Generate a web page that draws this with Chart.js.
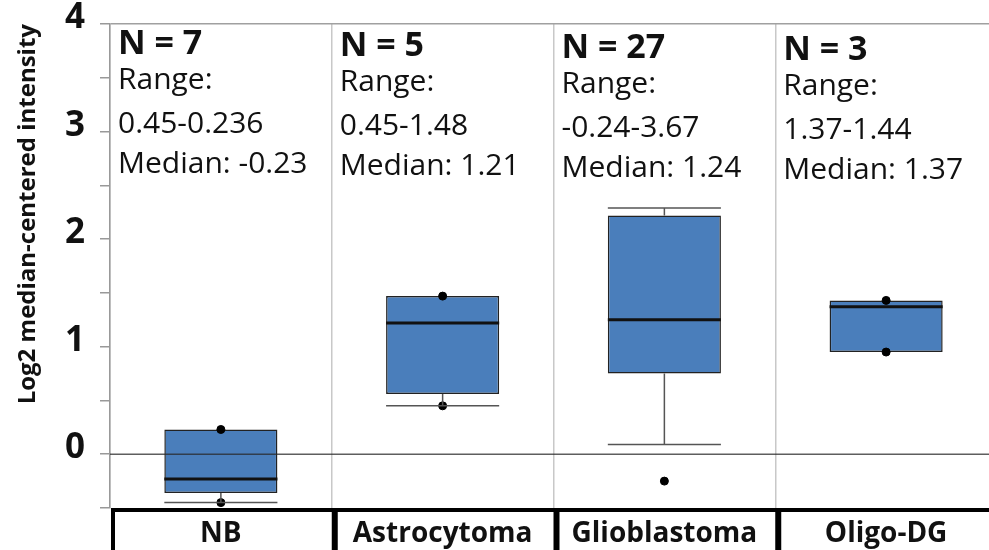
<!DOCTYPE html>
<html lang="en">
<head>
    <meta charset="UTF-8">
    <title>Expression by tumour type</title>
    <script src="https://cdn.jsdelivr.net/npm/chart.js"></script>
    <style>
        html, body { margin: 0; padding: 0; background: #fff; overflow: hidden; }
        #wrap { position: absolute; left: 0; top: 0; width: 1002px; height: 560px; }
    </style>
</head>
<body>
    <div id="wrap">
        <canvas id="boxChart" width="1002" height="560"></canvas>
    </div>

    <script>
    // categories and summary text shown above each box
    const categories = ['NB', 'Astrocytoma', 'Glioblastoma', 'Oligo-DG'];
    const nCounts = [7, 5, 27, 3];
    const rangeText = ['0.45-0.236', '0.45-1.48', '-0.24-3.67', '1.37-1.44'];
    const medianText = ['-0.23', '1.21', '1.24', '1.37'];

    // box plot values (log2 median-centered intensity)
    const q1 = [-0.36, 0.56, 0.75, 0.95];
    const q3 = [0.23, 1.47, 2.22, 1.43];
    const medians = [-0.23, 1.22, 1.25, 1.37];
    const whiskerLow = [-0.45, 0.45, 0.09, 0.95];
    const whiskerHigh = [0.23, 1.47, 2.29, 1.43];

    // single points drawn as dots
    const dotCategories = ['NB', 'NB', 'Astrocytoma', 'Astrocytoma', 'Glioblastoma', 'Oligo-DG', 'Oligo-DG'];
    const dotValues = [0.23, -0.45, 1.47, 0.45, -0.25, 1.43, 0.95];

    // y axis
    const yMin = -0.5;
    const yMax = 4;
    const yStep = 0.5;

    const FONT = "'Open Sans', 'DejaVu Sans', sans-serif";

    // whiskers, caps and median lines
    const boxPlotLines = {
        id: 'boxPlotLines',
        afterDatasetsDraw(chart) {
            const ctx = chart.ctx;
            const y = chart.scales.y;
            const bars = chart.getDatasetMeta(0).data;
            ctx.save();
            bars.forEach((bar, i) => {
                const xc = bar.x;
                const half = bar.width / 2;

                ctx.strokeStyle = '#555';
                ctx.lineWidth = 1.5;
                if (whiskerLow[i] < q1[i]) {
                    const yl = y.getPixelForValue(whiskerLow[i]);
                    ctx.beginPath();
                    ctx.moveTo(xc, y.getPixelForValue(q1[i]));
                    ctx.lineTo(xc, yl);
                    ctx.moveTo(xc - half, yl);
                    ctx.lineTo(xc + half, yl);
                    ctx.stroke();
                }
                if (whiskerHigh[i] > q3[i]) {
                    const yh = y.getPixelForValue(whiskerHigh[i]);
                    ctx.beginPath();
                    ctx.moveTo(xc, y.getPixelForValue(q3[i]));
                    ctx.lineTo(xc, yh);
                    ctx.moveTo(xc - half, yh);
                    ctx.lineTo(xc + half, yh);
                    ctx.stroke();
                }

                // median
                const ym = y.getPixelForValue(medians[i]);
                ctx.strokeStyle = '#111';
                ctx.lineWidth = 3;
                ctx.beginPath();
                ctx.moveTo(xc - half, ym);
                ctx.lineTo(xc + half, ym);
                ctx.stroke();
            });

            // zero reference line, drawn over the boxes
            const y0 = y.getPixelForValue(0);
            ctx.strokeStyle = 'rgba(40, 40, 40, 0.75)';
            ctx.lineWidth = 1.5;
            ctx.beginPath();
            ctx.moveTo(chart.chartArea.left, y0);
            ctx.lineTo(chart.chartArea.right, y0);
            ctx.stroke();
            ctx.restore();
        }
    };

    // N / Range / Median text at the top of each column + boxed x labels
    const columnText = {
        id: 'columnText',
        afterDraw(chart) {
            const ctx = chart.ctx;
            const x = chart.scales.x;
            const area = chart.chartArea;
            const step = x.getPixelForValue(1) - x.getPixelForValue(0);
            ctx.save();

            categories.forEach((c, i) => {
                const left = x.getPixelForValue(i) - step / 2 + 8;
                const top = area.top + i * 2;
                ctx.fillStyle = '#111';
                ctx.textAlign = 'left';
                ctx.textBaseline = 'alphabetic';
                ctx.font = 'bold 34px ' + FONT;
                ctx.fillText('N = ' + nCounts[i], left, top + 30);
                ctx.font = '30px ' + FONT;
                ctx.fillText('Range:', left, top + 65);
                ctx.fillText(rangeText[i], left, top + 109);
                ctx.fillText('Median: ' + medianText[i], left, top + 149);
            });

            // black frame round the category labels
            ctx.strokeStyle = '#000';
            ctx.lineWidth = 4;
            ctx.beginPath();
            ctx.moveTo(area.left + 2, area.bottom + 2);
            ctx.lineTo(area.right, area.bottom + 2);
            ctx.stroke();
            for (let i = 0; i <= categories.length; i++) {
                const bx = x.getPixelForValue(i) - step / 2;
                ctx.lineWidth = i === 0 ? 4 : 6;
                ctx.beginPath();
                ctx.moveTo(bx + 3, area.bottom);
                ctx.lineTo(bx + 3, chart.height);
                ctx.stroke();
            }
            ctx.restore();
        }
    };

    const ctx = document.getElementById('boxChart').getContext('2d');

    new Chart(ctx, {
        type: 'bar',
        data: {
            labels: categories,
            datasets: [
                {
                    label: 'IQR',
                    data: q1.map((v, i) => [v, q3[i]]),
                    backgroundColor: '#4a7ebb',
                    borderColor: '#222',
                    borderWidth: 1.5,
                    borderSkipped: false,
                    barPercentage: 0.51,
                    categoryPercentage: 1.0,
                    order: 2
                },
                {
                    type: 'line',
                    label: 'points',
                    data: dotCategories.map((c, i) => ({ x: c, y: dotValues[i] })),
                    showLine: false,
                    pointRadius: 4,
                    pointBackgroundColor: '#000',
                    pointBorderColor: '#000',
                    order: 1
                }
            ]
        },
        options: {
            responsive: false,
            animation: false,
            layout: { padding: { top: 24, right: 4, left: 0, bottom: 0 } },
            plugins: {
                legend: { display: false },
                tooltip: { enabled: false }
            },
            scales: {
                x: {
                    grid: { color: '#c8c8c8', lineWidth: 1.5, drawTicks: false, offset: true },
                    border: { display: false },
                    ticks: {
                        color: '#111',
                        font: { family: FONT, size: 28, weight: 'bold' },
                        padding: 9,
                        maxRotation: 0
                    },
                    afterFit(scale) { scale.height = 52; }
                },
                y: {
                    min: yMin,
                    max: yMax,
                    grid: {
                        color: c => (c.tick && c.tick.value === yMax ? '#a0a0a0' : 'transparent'),
                        lineWidth: 1.5,
                        tickColor: '#999',
                        tickLength: 10
                    },
                    border: { color: '#999', width: 1.5 },
                    ticks: {
                        stepSize: yStep,
                        color: '#111',
                        font: { family: FONT, size: 35, weight: 'bold' },
                        padding: 15,
                        labelOffset: -6,
                        callback: v => (Number.isInteger(v) ? String(v) : '')
                    },
                    title: {
                        display: true,
                        text: 'Log2 median-centered intensity',
                        align: 'end',
                        color: '#111',
                        font: { family: FONT, size: 24, weight: 'bold' },
                        padding: { top: 14, bottom: 0 }
                    },
                    afterFit(scale) {
                        scale.width = 110;
                        // keep the plot top fixed; the "4" label may stick out
                        scale.paddingTop = 0;
                        scale.paddingBottom = 0;
                    }
                }
            }
        },
        plugins: [boxPlotLines, columnText]
    });
    </script>
</body>
</html>
